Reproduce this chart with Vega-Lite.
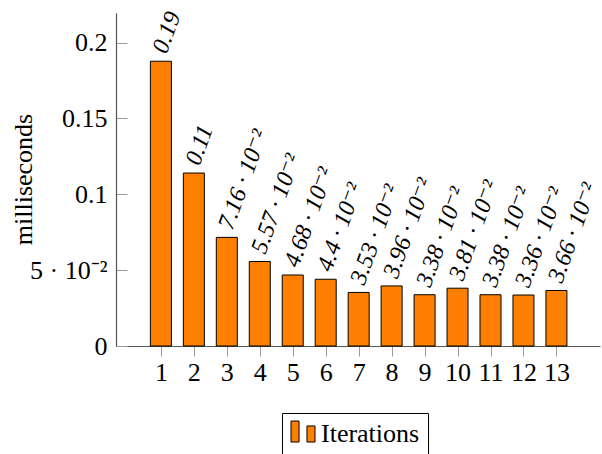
{
  "$schema": "https://vega.github.io/schema/vega-lite/v6.json",
  "width": 484,
  "height": 333,
  "autosize": "none",
  "padding": {"left": 116, "top": 13, "right": 2, "bottom": 108},
  "background": "white",
  "config": {
    "view": {"stroke": null},
    "font": "Liberation Serif",
    "axis": {
      "labelFont": "Liberation Serif",
      "titleFont": "Liberation Serif",
      "labelFontSize": 26,
      "titleFontSize": 26,
      "labelColor": "black",
      "titleColor": "black",
      "titleFontWeight": "normal",
      "grid": false,
      "domainColor": "#555555",
      "domainWidth": 1.2,
      "tickColor": "#999999",
      "tickWidth": 1
    },
    "legend": {
      "labelFont": "Liberation Serif",
      "labelFontSize": 26,
      "labelColor": "black"
    }
  },
  "data": {
    "values": [
      {"iter": 1, "ms": 0.1877, "label": "0.19", "series": "Iterations"},
      {"iter": 2, "ms": 0.114, "label": "0.11", "series": "Iterations"},
      {"iter": 3, "ms": 0.0716, "label": "7.16 · 10⁻²", "series": "Iterations"},
      {"iter": 4, "ms": 0.0557, "label": "5.57 · 10⁻²", "series": "Iterations"},
      {"iter": 5, "ms": 0.0468, "label": "4.68 · 10⁻²", "series": "Iterations"},
      {"iter": 6, "ms": 0.044, "label": "4.4 · 10⁻²", "series": "Iterations"},
      {"iter": 7, "ms": 0.0353, "label": "3.53 · 10⁻²", "series": "Iterations"},
      {"iter": 8, "ms": 0.0396, "label": "3.96 · 10⁻²", "series": "Iterations"},
      {"iter": 9, "ms": 0.0338, "label": "3.38 · 10⁻²", "series": "Iterations"},
      {"iter": 10, "ms": 0.0381, "label": "3.81 · 10⁻²", "series": "Iterations"},
      {"iter": 11, "ms": 0.0338, "label": "3.38 · 10⁻²", "series": "Iterations"},
      {"iter": 12, "ms": 0.0336, "label": "3.36 · 10⁻²", "series": "Iterations"},
      {"iter": 13, "ms": 0.0366, "label": "3.66 · 10⁻²", "series": "Iterations"}
    ]
  },
  "layer": [
    {
      "mark": {"type": "bar", "size": 21, "stroke": "black", "strokeWidth": 1},
      "encoding": {
        "x": {
          "field": "iter",
          "type": "quantitative",
          "scale": {"domain": [-0.21, 14.17], "nice": false, "zero": false},
          "axis": {
            "title": null,
            "values": [1,2,3,4,5,6,7,8,9,10,11,12,13],
            "format": "d",
            "tickSize": 10,
            "labelPadding": 3,
            "labelFlush": false,
            "labelOverlap": false
          }
        },
        "y": {
          "field": "ms",
          "type": "quantitative",
          "scale": {"domain": [0, 0.2195], "nice": false},
          "axis": {
            "title": "milliseconds",
            "values": [0, 0.05, 0.1, 0.15, 0.2],
            "format": "~g",
            "labelExpr": "datum.value == 0.05 ? '5 · 10⁻²' : datum.label",
            "tickSize": -11,
            "labelPadding": 20,
            "labelBaseline": "middle",
            "labelFlush": false,
            "labelOverlap": false,
            "titleX": -85,
            "titleY": 166,
            "titleAngle": -90,
            "titleAlign": "center",
            "titleBaseline": "alphabetic"
          }
        },
        "fill": {
          "field": "series",
          "type": "nominal",
          "scale": {"range": ["#ff8000"]},
          "legend": {
            "title": null,
            "orient": "none",
            "legendX": 166,
            "legendY": 400,
            "symbolType": "M-1,-1.08H-0.33V0.67H-1Z M0.33,-0.67H1V0.67H0.33Z",
            "symbolSize": 576,
            "symbolStrokeColor": "black",
            "symbolStrokeWidth": 1,
            "labelFont": "Liberation Serif",
            "labelFontSize": 26,
            "labelColor": "black",
            "labelOffset": 5,
            "strokeColor": "black",
            "fillColor": "white",
            "padding": 8
          }
        }
      }
    },
    {
      "mark": {
        "type": "text",
        "angle": -70,
        "align": "left",
        "baseline": "middle",
        "dx": 8,
        "dy": -4,
        "font": "Liberation Serif, DejaVu Serif",
        "fontStyle": "italic",
        "fontSize": 24,
        "color": "black"
      },
      "encoding": {
        "x": {"field": "iter", "type": "quantitative"},
        "y": {"field": "ms", "type": "quantitative"},
        "text": {"field": "label"}
      }
    }
  ]
}
